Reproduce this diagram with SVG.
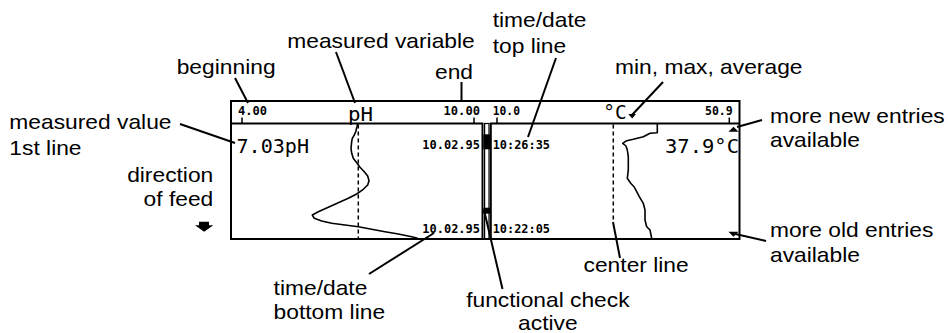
<svg xmlns="http://www.w3.org/2000/svg" width="948" height="333" viewBox="0 0 948 333">
<style>
.lbl{font-family:"Liberation Sans",Arial,sans-serif;font-size:20px;fill:#000}
.lcd{font-family:"DejaVu Sans Mono","Liberation Mono",monospace;fill:#000}
.sm{font-size:11.5px;font-weight:bold}
.md{font-size:13px;font-weight:bold}
.lg{font-size:19px}
.conn line{stroke:#000;stroke-width:2}
.frame{fill:none;stroke:#000;stroke-width:2}
.rule{stroke:#000;stroke-width:2;fill:none}
.tick{stroke:#000;stroke-width:1.5}
.dash{stroke:#000;stroke-width:1.5;stroke-dasharray:4 3}
.curve{fill:none;stroke:#000;stroke-width:1.6;stroke-linejoin:round}
</style>
<rect width="948" height="333" fill="#fff"/>

<!-- display -->
<g id="display">
  <rect class="frame" x="231" y="101" width="508.5" height="138"/>
</g>

<g id="ph-panel">
  <path class="rule" d="M231 123.5 H482.5 V239"/>
  <line class="tick" x1="242" y1="117.5" x2="242" y2="123"/>
  <line class="tick" x1="474" y1="117.5" x2="474" y2="123"/>
  <text class="lcd sm" x="238" y="115" textLength="29" lengthAdjust="spacingAndGlyphs">4.00</text>
  <text class="lcd lg" x="348" y="120.5" textLength="25" lengthAdjust="spacingAndGlyphs">pH</text>
  <text class="lcd sm" x="443.5" y="115" textLength="36.5" lengthAdjust="spacingAndGlyphs">10.00</text>
  <text class="lcd lg" x="236.5" y="153.3" textLength="72.5" lengthAdjust="spacingAndGlyphs">7.03pH</text>
  <text class="lcd md" x="422.3" y="149.3" textLength="57.7" lengthAdjust="spacingAndGlyphs">10.02.95</text>
  <text class="lcd md" x="422.3" y="233.3" textLength="57.7" lengthAdjust="spacingAndGlyphs">10.02.95</text>
  <line class="dash" x1="358.3" y1="124.5" x2="358.3" y2="239"/>
  <polyline class="curve" points="357.7,123.3 357,126.7 355.7,131.7 354.3,135 352.3,138.3 351.7,141.7 351,148.3 351.7,153.3 353.3,158.3 356.7,162.7 360,167.3 364.3,171.7 367.7,176 369,180.7 367.7,185 363.3,189.3 356.7,194 348.3,198.3 338.3,202.7 328.3,207.3 318.3,211.7 312.3,215 314.3,218.3 321.7,221 331.7,223.3 345,225 358.3,226.7 371.7,229.3 385,231.7 398.3,234 411.7,236.7 417.7,238.3"/>
</g>

<g id="check-bar">
  <rect x="484.6" y="123.5" width="4.4" height="115.5" fill="none" stroke="#000" stroke-width="1.2"/>
  <rect x="483.3" y="134.3" width="7.2" height="15" fill="#000"/>
  <rect x="483.3" y="207.7" width="7.2" height="6" fill="#000"/>
</g>

<g id="temp-panel">
  <path class="rule" d="M739 123.5 H490.8 V239"/>
  <line class="tick" x1="497" y1="117.5" x2="497" y2="123"/>
  <line class="tick" x1="729.3" y1="117.5" x2="729.3" y2="123"/>
  <text class="lcd sm" x="492.7" y="115" textLength="27.3" lengthAdjust="spacingAndGlyphs">10.0</text>
  <text class="lcd lg" x="603.3" y="119.3" textLength="23.4" lengthAdjust="spacingAndGlyphs">°C</text>
  <polygon points="628.3,114 636,114 632.2,118.5" fill="#000"/>
  <text class="lcd sm" x="705" y="115" textLength="27.7" lengthAdjust="spacingAndGlyphs">50.9</text>
  <text class="lcd md" x="492.7" y="149.3" textLength="57.3" lengthAdjust="spacingAndGlyphs">10:26:35</text>
  <text class="lcd md" x="492.7" y="233.3" textLength="57.3" lengthAdjust="spacingAndGlyphs">10:22:05</text>
  <text class="lcd lg" x="665" y="153.3" textLength="74" lengthAdjust="spacingAndGlyphs">37.9°C</text>
  <polygon points="728.5,131.7 738.5,131.7 733.5,126.7" fill="#000"/>
  <polygon points="728.5,231.7 738.5,231.7 733.5,236.7" fill="#000"/>
  <line class="dash" x1="613.3" y1="124.5" x2="613.3" y2="222"/>
  <polyline class="curve" points="657.3,123.3 657.3,132.7 650,133.3 643.3,136.7 633.3,139.3 626.7,140.7 622.7,143.3 626,146 627.3,150 628.3,156.7 628.3,170 627.3,178.3 630.7,183.3 634,186.7 636.7,191.7 639.3,196.7 643.3,203.3 645,210 645,220 646.7,226.7 650,230 651.7,238.3"/>
</g>

<g id="feed-arrow">
  <polygon points="199,221.7 209,221.7 209,225.3 213.3,225.3 204.2,231.7 195,225.3 199,225.3" fill="#000"/>
</g>

<!-- connectors -->
<g id="connectors" class="conn">
  <line x1="235" y1="78" x2="248" y2="103"/>
  <line x1="336" y1="52" x2="355" y2="103"/>
  <line x1="461.5" y1="82" x2="461.5" y2="102"/>
  <line x1="556" y1="58" x2="528" y2="137"/>
  <line x1="663" y1="82" x2="632" y2="115"/>
  <line x1="180" y1="124" x2="235" y2="143"/>
  <line x1="762" y1="120" x2="737" y2="127"/>
  <line x1="766" y1="241" x2="731" y2="233"/>
  <line x1="613" y1="222" x2="620" y2="258"/>
  <line x1="369" y1="274" x2="434" y2="233"/>
  <line x1="484" y1="210" x2="502.5" y2="289"/>
</g>

<!-- labels -->
<g id="label-beginning" transform="scale(1.14,1)"><text class="lbl" x="155" y="74.5">beginning</text></g>
<g id="label-measured-variable" transform="scale(1.14,1)"><text class="lbl" x="252" y="47.7">measured variable</text></g>
<g id="label-end" transform="scale(1.14,1)"><text class="lbl" x="381.6" y="79">end</text></g>
<g id="label-time-top" transform="scale(1.14,1)"><text class="lbl" x="432.2" y="26.7">time/date</text><text class="lbl" x="432.2" y="52.7">top line</text></g>
<g id="label-minmax" transform="scale(1.14,1)"><text class="lbl" x="539.5" y="74.3">min, max, average</text></g>
<g id="label-measured-value" transform="scale(1.14,1)"><text class="lbl" x="8.2" y="129.3">measured value</text><text class="lbl" x="8.2" y="155">1st line</text></g>
<g id="label-feed" transform="scale(1.14,1)"><text class="lbl" x="187.1" y="181.7" text-anchor="end">direction</text><text class="lbl" x="187.1" y="206" text-anchor="end">of feed</text></g>
<g id="label-more-new" transform="scale(1.14,1)"><text class="lbl" x="675.4" y="123.3">more new entries</text><text class="lbl" x="675.4" y="146.7">available</text></g>
<g id="label-more-old" transform="scale(1.14,1)"><text class="lbl" x="675.4" y="237.3">more old entries</text><text class="lbl" x="675.4" y="261.7">available</text></g>
<g id="label-center" transform="scale(1.14,1)"><text class="lbl" x="511.9" y="272.5">center line</text></g>
<g id="label-time-bottom" transform="scale(1.14,1)"><text class="lbl" x="240" y="295">time/date</text><text class="lbl" x="240" y="319">bottom line</text></g>
<g id="label-functional" transform="scale(1.14,1)"><text class="lbl" x="480.6" y="307.5" text-anchor="middle">functional check</text><text class="lbl" x="480.6" y="330" text-anchor="middle">active</text></g>
</svg>
